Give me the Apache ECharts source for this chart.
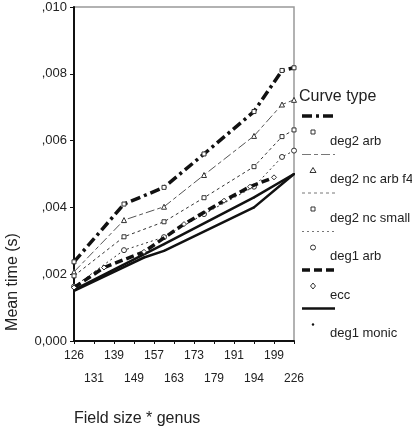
<!DOCTYPE html>
<html>
<head>
<meta charset="utf-8">
<script src="https://cdn.jsdelivr.net/npm/echarts@6/dist/echarts.min.js"></script>
<style>
  html, body { margin: 0; padding: 0; background: #fff; }
  #main { width: 412px; height: 432px; }
</style>
</head>
<body>
<div id="main"></div>
<script>
// x categories (field size * genus), tick labels of the y axis
var categories = ['126', '131', '139', '149', '157', '163', '173', '179', '191', '194', '199', '226']
var yTickLabels = ['0,000', ',002', ',004', ',006', ',008', ',010']

// positions along the category axis (in category steps) and mean times
var xDeg2 = [0, 2.5, 4.5, 6.5, 9, 10.4, 11]
var deg2Arb = [0.00237, 0.0041, 0.0046, 0.0056, 0.00687, 0.0081, 0.00818]
var deg2NcArbF4 = [0.00207, 0.00362, 0.00402, 0.00497, 0.00614, 0.00708, 0.00722]
var deg2NcSmall = [0.00195, 0.00312, 0.00357, 0.00429, 0.00522, 0.00612, 0.00632]
var deg1Arb = [0.00163, 0.00272, 0.00311, 0.0038, 0.00462, 0.00551, 0.0057]
var xEcc = [0, 1.5, 3.5, 5.5, 7.5, 8.8, 10]
var ecc = [0.0016, 0.0022, 0.00267, 0.0035, 0.0042, 0.00462, 0.0049]
var xMonic = [0, 4.5, 9, 11]
var deg1Monic = [0.00153, 0.0029, 0.0043, 0.005]
var xMonic2 = [0, 3.5, 4.5, 9, 11]
var deg1Monic2 = [0.0015, 0.0025, 0.0027, 0.004, 0.005]

var curveNames = ['deg2 arb', 'deg2 nc arb f4', 'deg2 nc small', 'deg1 arb', 'ecc', 'deg1 monic']

var styles = [
  {x: xDeg2, y: deg2Arb, color: '#111', width: 3.5, dash: [10, 4, 3, 4], symbol: 'rect', size: 4},
  {x: xDeg2, y: deg2NcArbF4, color: '#555', width: 1, dash: [9, 3, 4, 3], symbol: 'triangle', size: 5},
  {x: xDeg2, y: deg2NcSmall, color: '#333', width: 1, dash: [3, 3], symbol: 'rect', size: 4},
  {x: xDeg2, y: deg1Arb, color: '#333', width: 1, dash: [2, 3], symbol: 'circle', size: 5},
  {x: xEcc, y: ecc, color: '#111', width: 3.5, dash: [8, 4], symbol: 'diamond', size: 5},
  {x: xMonic, y: deg1Monic, color: '#111', width: 2.5, dash: 'solid', symbol: 'circle', size: 2}
]

var myChart = echarts.init(document.getElementById('main'))
var font = 'Liberation Sans, Arial, sans-serif'

var series = []
for (var i = 0; i < styles.length; i++) {
  var s = styles[i]
  series.push({
    name: curveNames[i],
    type: 'line',
    data: s.x.map(function (x, k) { return [x, s.y[k]] }),
    symbol: s.symbol,
    symbolSize: s.size,
    showSymbol: true,
    lineStyle: {color: s.color, width: s.width, type: s.dash, cap: 'butt'},
    itemStyle: {
      color: s.size <= 2 ? '#111' : '#fff',
      borderColor: '#333',
      borderWidth: s.size <= 2 ? 0 : 1
    },
    z: s.width > 2 ? 3 : 2,
    animation: false
  })
}
// second solid curve (no legend entry visible)
series.push({
  name: 'deg1 monic (2)',
  type: 'line',
  data: xMonic2.map(function (x, k) { return [x, deg1Monic2[k]] }),
  symbol: 'circle',
  symbolSize: 2,
  lineStyle: {color: '#111', width: 2.5},
  itemStyle: {color: '#111'},
  animation: false
})

// hand-made legend: line sample, then marker + label below it
var graphic = [
  {type: 'text', left: 299, top: 89, style: {text: 'Curve type', font: '16px ' + font, fill: '#222'}},
  {type: 'text', x: 13, y: 282, rotation: Math.PI / 2,
    style: {text: 'Mean time (s)', font: '16px ' + font, fill: '#222', align: 'center', verticalAlign: 'middle'}},
  {type: 'text', left: 74, top: 411, style: {text: 'Field size * genus', font: '16px ' + font, fill: '#222'}}
]
for (var j = 0; j < curveNames.length; j++) {
  var st = styles[j]
  var y0 = 116 + j * 38.5
  var my = y0 + 16
  var ty = y0 + 25
  graphic.push({
    type: 'line',
    shape: {x1: 302, y1: y0, x2: 335, y2: y0},
    style: {stroke: st.width < 2 ? '#777' : '#111', lineWidth: st.width, lineDash: st.dash === 'solid' ? null : st.dash}
  })
  var mk
  if (st.symbol === 'rect') {
    mk = {type: 'rect', shape: {x: 311, y: my - 2, width: 4, height: 4}, style: {fill: '#fff', stroke: '#333', lineWidth: 1}}
  } else if (st.symbol === 'triangle') {
    mk = {type: 'polygon', shape: {points: [[313, my - 3], [316, my + 2], [310, my + 2]]}, style: {fill: '#fff', stroke: '#333', lineWidth: 1}}
  } else if (st.symbol === 'diamond') {
    mk = {type: 'polygon', shape: {points: [[313, my - 3], [315.5, my], [313, my + 3], [310.5, my]]}, style: {fill: '#fff', stroke: '#333', lineWidth: 1}}
  } else if (st.size <= 2) {
    mk = {type: 'circle', shape: {cx: 313, cy: my, r: 1.2}, style: {fill: '#111'}}
  } else {
    mk = {type: 'circle', shape: {cx: 313, cy: my, r: 2.5}, style: {fill: '#fff', stroke: '#333', lineWidth: 1}}
  }
  graphic.push(mk)
  graphic.push({type: 'text', x: 330, y: ty,
    style: {text: curveNames[j], font: '13px ' + font, fill: '#222', verticalAlign: 'middle'}})
}

var option = {
  backgroundColor: '#fff',
  animation: false,
  grid: {left: 74, right: 118, top: 7, bottom: 91, show: true, borderColor: '#999', borderWidth: 1.5},
  xAxis: {
    type: 'value',
    min: 0,
    max: categories.length - 1,
    interval: 1,
    axisLine: {lineStyle: {color: '#111', width: 2}},
    axisTick: {show: true, length: 3, lineStyle: {color: '#111'}},
    splitLine: {show: false},
    axisLabel: {
      color: '#222',
      fontSize: 12,
      fontFamily: font,
      margin: 3.5,
      lineHeight: 23,
      showMinLabel: true,
      showMaxLabel: true,
      formatter: function (v) {
        var idx = Math.round(v)
        return idx % 2 === 1 ? '\n' + categories[idx] : categories[idx]
      }
    }
  },
  yAxis: {
    type: 'value',
    min: 0,
    max: 0.01,
    interval: 0.002,
    axisLine: {show: true, lineStyle: {color: '#111', width: 2}},
    axisTick: {show: true, length: 4, lineStyle: {color: '#111'}},
    splitLine: {show: false},
    axisLabel: {
      color: '#222',
      fontSize: 13,
      fontFamily: font,
      margin: 7,
      formatter: function (v, idx) { return yTickLabels[idx] }
    }
  },
  graphic: graphic,
  series: series
}
myChart.setOption(option)
</script>
</body>
</html>
